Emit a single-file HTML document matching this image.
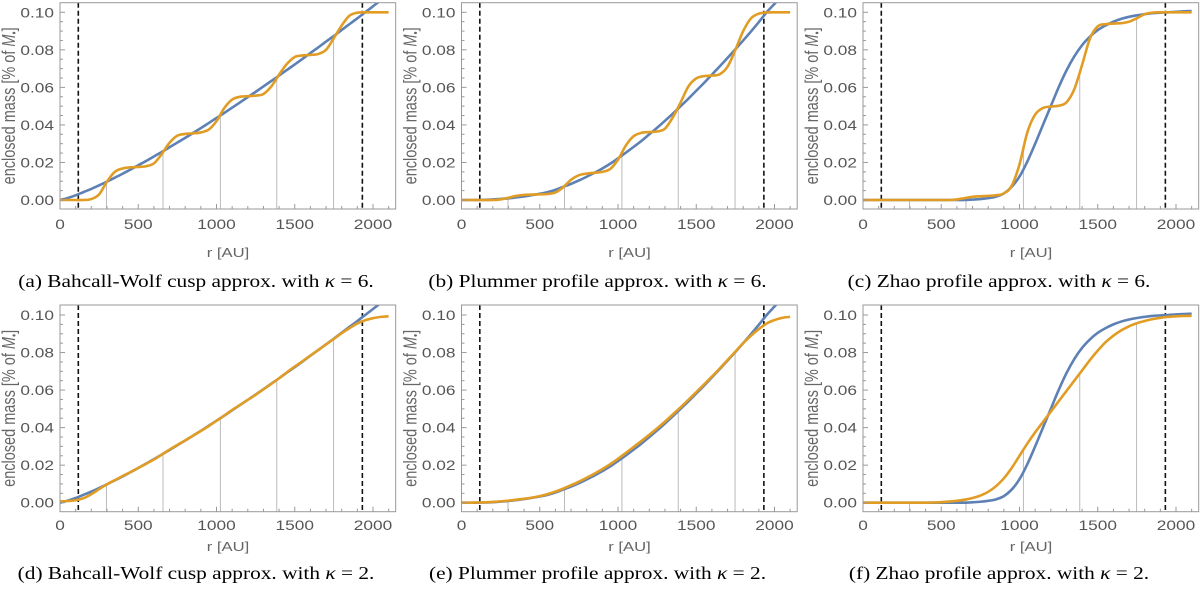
<!DOCTYPE html>
<html><head><meta charset="utf-8">
<style>
html,body{margin:0;padding:0;background:#fff;}
svg{display:block;}
.tl{font-family:"Liberation Sans",sans-serif;font-size:13.5px;fill:#555;}
.ttl{font-family:"Liberation Sans",sans-serif;font-size:13px;fill:#666;}
.yttl{font-family:"Liberation Sans",sans-serif;font-size:14.5px;fill:#666;}
.cap{font-family:"Liberation Serif",serif;font-size:17.5px;fill:#000;}
</style></head>
<body>
<svg id="fig" width="1200" height="598" viewBox="0 0 1200 598" xmlns="http://www.w3.org/2000/svg"></svg>
<script>
const radii = [0,50,100,150,200,250,300,350,400,450,500,550,600,650,700,750,800,850,900,950,1000,1050,1100,1150,1200,1250,1300,1350,1400,1450,1500,1550,1600,1650,1700,1750,1800,1850,1900,1950,2000,2050,2100];
const bwBlue = [0,.0011,.0025,.0042,.0059,.0078,.0098,.0119,.0140,.0162,.0185,.0208,.0232,.0256,.0281,.0306,.0331,.0357,.0383,.0410,.0437,.0464,.0492,.0520,.0548,.0576,.0605,.0634,.0663,.0693,.0722,.0752,.0783,.0813,.0844,.0874,.0906,.0937,.0968,.1,.1032,.1064,.1096];
const bwOrange6 = [0,0,0,0,.0005,.003,.0098,.015,.0168,.0174,.0176,.0180,.0195,.0245,.0305,.0343,.0352,.0355,.0360,.0375,.042,.049,.0535,.0550,.0553,.0556,.0565,.0605,.0668,.0725,.0762,.0770,.0773,.0778,.0800,.0863,.0930,.0982,.0998,.1,.1,.1,.1];
const plBlue = [0,0,0,.0001,.0003,.0006,.0009,.0014,.0019,.0026,.0033,.0042,.0054,.0070,.0086,.0104,.0124,.0145,.0168,.0193,.0222,.0252,.0283,.0315,.0350,.0385,.0422,.0460,.0500,.0540,.0582,.0624,.0668,.0712,.0757,.0803,.0850,.0898,.0948,.1,.1045,.109,.114];
const plOrange6 = [0,0,0,0,0,.0003,.0012,.0022,.0027,.0029,.0030,.0032,.0040,.0068,.0108,.0132,.0141,.0145,.0150,.0165,.0215,.0290,.0340,.0358,.0362,.0365,.0380,.0440,.0520,.0605,.0648,.0660,.0663,.0670,.0710,.0800,.0900,.0968,.0993,.0999,.1,.1,.1];
const zhBlue = [0,0,0,0,0,0,0,0,0,0,0,0,0,0,.0002,.0005,.001,.0018,.0035,.007,.0125,.0205,.0300,.0400,.0500,.0600,.0690,.0765,.0825,.0870,.0905,.0930,.0950,.0965,.0976,.0984,.0990,.0995,.0998,.1,.1003,.1005,.1007];
const zhOrange6 = [0,0,0,0,0,0,0,0,0,0,0,0,.0003,.001,.0017,.002,.0022,.0025,.0035,.0075,.019,.036,.0455,.0490,.0498,.0502,.0520,.0590,.0720,.0860,.0925,.0937,.0940,.0942,.0950,.0968,.0990,.0998,.1,.1,.1,.1,.1];
const bwOrange2 = [.0007,.0009,.0013,.0024,.0045,.0072,.0098,.0120,.0142,.0163,.0185,.0207,.0230,.0256,.0283,.0308,.0332,.0357,.0382,.0408,.0436,.0465,.0494,.0521,.0548,.0575,.0604,.0633,.0663,.0695,.0725,.0754,.0784,.0813,.0843,.0873,.0903,.0930,.0955,.0972,.0983,.0990,.0993];
const plOrange2 = [0,0,.0001,.0002,.0004,.0007,.0011,.0016,.0021,.0027,.0035,.0046,.0059,.0075,.0093,.0112,.0133,.0155,.0179,.0205,.0234,.0265,.0297,.0329,.0362,.0396,.0432,.0470,.0508,.0548,.0589,.0630,.0672,.0715,.0760,.0805,.0850,.0890,.0925,.0955,.0973,.0985,.0990];
const zhOrange2 = [0,0,0,0,0,0,0,0,0,.0001,.0003,.0006,.001,.0016,.0025,.0038,.0058,.0088,.0130,.0185,.0250,.0315,.0375,.0430,.0485,.0540,.0595,.0650,.0705,.0760,.0810,.0855,.0890,.0918,.0940,.0956,.0968,.0978,.0985,.0990,.0993,.0995,.0996];
const gridRadii = [297,658,1025,1385,1748];
const dashRadii = [117,1932];
const xTicks = [0,500,1000,1500,2000];
const yTicks = [0,0.02,0.04,0.06,0.08,0.10];
const captions = ["(a) Bahcall-Wolf cusp approx. with ","(b) Plummer profile approx. with ","(c) Zhao profile approx. with ","(d) Bahcall-Wolf cusp approx. with ","(e) Plummer profile approx. with ","(f) Zhao profile approx. with "];
const kappas = ["6","6","6","2","2","2"];
const blueSeries = [bwBlue,plBlue,zhBlue,bwBlue,plBlue,zhBlue];
const orangeSeries = [bwOrange6,plOrange6,zhOrange6,bwOrange2,plOrange2,zhOrange2];

const NS="http://www.w3.org/2000/svg";
const svg=document.getElementById('fig');
function mk(tag,attrs,parent){const e=document.createElementNS(NS,tag);for(const k in attrs)e.setAttribute(k,attrs[k]);(parent||svg).appendChild(e);return e;}
function stext(x,y,anchor,cls,parent,s){return mk('text',{x:0,y:0,'text-anchor':anchor,class:cls,transform:'translate('+x+','+y+') scale('+(s||1.28)+',1)'},parent);}
function interp(arr,r){if(r<=radii[0])return arr[0];for(let i=1;i<radii.length;i++){if(r<=radii[i]){const t=(r-radii[i-1])/(radii[i]-radii[i-1]);return arr[i-1]+t*(arr[i]-arr[i-1]);}}return arr[arr.length-1];}
function pathFrom(pts){let d='M'+pts[0][0].toFixed(2)+','+pts[0][1].toFixed(2);for(let i=0;i<pts.length-1;i++){const p0=pts[Math.max(0,i-1)],p1=pts[i],p2=pts[i+1],p3=pts[Math.min(pts.length-1,i+2)];const c1x=p1[0]+(p2[0]-p0[0])/6,c1y=p1[1]+(p2[1]-p0[1])/6,c2x=p2[0]-(p3[0]-p1[0])/6,c2y=p2[1]-(p3[1]-p1[1])/6;d+=' C'+c1x.toFixed(2)+','+c1y.toFixed(2)+' '+c2x.toFixed(2)+','+c2y.toFixed(2)+' '+p2[0].toFixed(2)+','+p2[1].toFixed(2);}return d;}

const colLeft=[60,461.5,863];
const sx=0.1565, rMax=2145;
const sy=1877;
const rows=[{y0:200,top:2.7,bot:209,tickY:229,titleY:257,capY:287},{y0:502.7,top:305,bot:511.7,tickY:530,titleY:551,capY:579}];

for(let p=0;p<6;p++){
  const row=rows[Math.floor(p/3)], L=colLeft[p%3];
  const X=r=>L+r*sx, Y=v=>row.y0-v*sy;
  const R=X(rMax);
  const g=mk('g',{});
  
  
  const cid='clip'+p;
  const cp=mk('clipPath',{id:cid},g);
  mk('rect',{x:L,y:row.top,width:R-L,height:row.bot-row.top},cp);
  gridRadii.forEach(r=>{
    const v=interp(orangeSeries[p],r);
    const l=mk('line',{x1:X(r),x2:X(r),y1:row.bot,y2:Y(v),stroke:'#bbb','stroke-width':1},g);
    
    
  });
  dashRadii.forEach(r=>{
    const l=mk('line',{x1:X(r),x2:X(r),y1:row.top,y2:row.bot,stroke:'#111','stroke-width':1.6,'stroke-dasharray':'5,3'},g);
    
    
  });
  const bp=radii.map((r,i)=>[X(r),Y(blueSeries[p][i])]);
  const bl=mk('path',{d:pathFrom(bp),fill:'none',stroke:'#5e81b5','stroke-width':2.6,'clip-path':'url(#'+cid+')'},g);
  
  
  const op=radii.map((r,i)=>[X(r),Y(orangeSeries[p][i])]);
  const ol=mk('path',{d:pathFrom(op),fill:'none',stroke:'#e19c24','stroke-width':2.6,'clip-path':'url(#'+cid+')'},g);
  
  
  const fr=mk('rect',{x:L,y:row.top,width:R-L,height:row.bot-row.top,fill:'none',stroke:'#999','stroke-width':1},g);
  
  
  for(let r=0;r<=2100;r+=100){
    const major=r%500===0;
    mk('line',{x1:X(r),x2:X(r),y1:row.bot,y2:row.bot-(major?5:3),stroke:'#999','stroke-width':1},g);
  }
  xTicks.forEach(r=>{
    const t=stext(X(r),row.tickY,'middle','tl',g);
    t.textContent=String(r);
    
    
  });
  for(let v=0;v<=0.1001;v+=0.005){
    const major=Math.abs(v/0.02-Math.round(v/0.02))<1e-6;
    mk('line',{x1:L,x2:L+(major?5:3),y1:Y(v),y2:Y(v),stroke:'#999','stroke-width':1},g);
  }
  yTicks.forEach(v=>{
    const t=stext(L-6,Y(v)+5,'end','tl',g);
    t.textContent=v.toFixed(2);
    
    
  });
  const xt=stext(L+168,row.titleY,'middle','ttl',g);
  xt.textContent='r [AU]';
  
  
  const cy=(row.top+row.bot)/2;
  const yt=mk('text',{x:0,y:0,'text-anchor':'middle',class:'yttl',transform:'translate('+(L-45)+','+cy+') rotate(-90) scale(1,1.25)'},g);
  yt.innerHTML='enclosed mass [% of <tspan font-style="italic">M</tspan><tspan font-size="9" dy="2">•</tspan><tspan dy="-2">]</tspan>';
  
  
  const cap=stext(L+136,row.capY,'middle','cap',g,1.22);
  cap.innerHTML=captions[p]+'<tspan font-style="italic">κ</tspan> = '+kappas[p]+'.';
  
  
}
</script>
</body></html>
